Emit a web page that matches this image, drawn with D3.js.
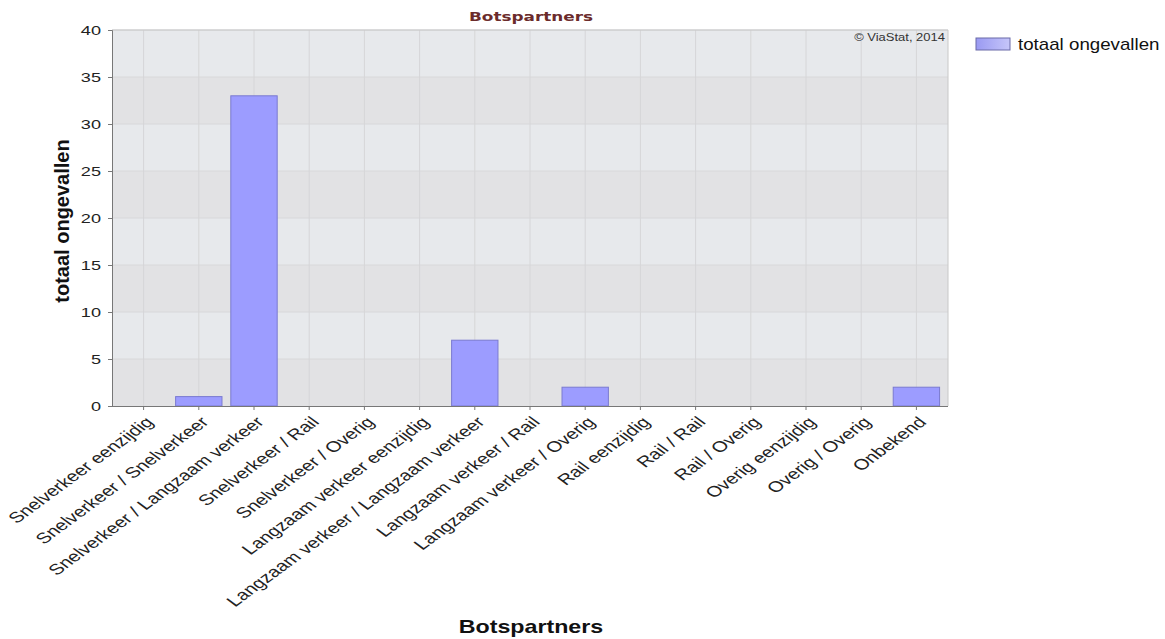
<!DOCTYPE html>
<html>
<head>
<meta charset="utf-8">
<script src="https://cdn.jsdelivr.net/npm/d3@7"></script>
<style>
  body { margin: 0; background: #fff; }
  svg { display: block; font-family: "Liberation Sans", Arial, sans-serif; }
</style>
</head>
<body>
<svg id="chart" width="1165" height="639"></svg>
<script>
// Collision partners and accident counts
const categories = [
  "Snelverkeer eenzijdig",
  "Snelverkeer / Snelverkeer",
  "Snelverkeer / Langzaam verkeer",
  "Snelverkeer / Rail",
  "Snelverkeer / Overig",
  "Langzaam verkeer eenzijdig",
  "Langzaam verkeer / Langzaam verkeer",
  "Langzaam verkeer / Rail",
  "Langzaam verkeer / Overig",
  "Rail eenzijdig",
  "Rail / Rail",
  "Rail / Overig",
  "Overig eenzijdig",
  "Overig / Overig",
  "Onbekend"
];
const totals = [0, 1, 33, 0, 0, 0, 7, 0, 2, 0, 0, 0, 0, 0, 2];
const yTicks = [0, 5, 10, 15, 20, 25, 30, 35, 40];
const seriesName = "totaal ongevallen";

const svg = d3.select("#chart");
const plot = { left: 112, right: 948, top: 30, bottom: 406 };
// horizontal widening applied to the category labels
const sx = 1.36;

const x = d3.scaleBand()
  .domain(categories)
  .range([plot.left + 4, plot.right - 4])
  .paddingInner(0.16)
  .paddingOuter(0.08);

const y = d3.scaleLinear().domain([0, 40]).range([plot.bottom, plot.top]);

// Alternating horizontal bands
const bands = d3.pairs(yTicks);
svg.append("g").selectAll("rect").data(bands).join("rect")
  .attr("x", plot.left)
  .attr("width", plot.right - plot.left)
  .attr("y", d => y(d[1]))
  .attr("height", d => y(d[0]) - y(d[1]))
  .attr("fill", (d, i) => i % 2 === 0 ? "#e2e2e4" : "#e7e9ec");

// Grid lines
svg.append("g").selectAll("line").data(yTicks.slice(1)).join("line")
  .attr("x1", plot.left).attr("x2", plot.right)
  .attr("y1", d => y(d)).attr("y2", d => y(d))
  .attr("stroke", "#d8d8da").attr("stroke-width", 1);

svg.append("g").selectAll("line").data(categories).join("line")
  .attr("x1", d => x(d) + x.bandwidth() / 2).attr("x2", d => x(d) + x.bandwidth() / 2)
  .attr("y1", plot.top).attr("y2", plot.bottom)
  .attr("stroke", "#d6d6d8").attr("stroke-width", 1);

// Plot border (top/right)
svg.append("path")
  .attr("d", `M${plot.left},${plot.top}H${plot.right}V${plot.bottom}`)
  .attr("fill", "none").attr("stroke", "#c8c8c8");

// Bars
svg.append("g").selectAll("rect").data(categories.map((c, i) => ({ c, v: totals[i] })).filter(d => d.v > 0))
  .join("rect")
  .attr("x", d => x(d.c))
  .attr("width", x.bandwidth())
  .attr("y", d => y(d.v))
  .attr("height", d => y(0) - y(d.v))
  .attr("fill", "#9c9cff")
  .attr("stroke", "#7a7ad0")
  .attr("stroke-width", 1);

// Y axis
const yAxis = svg.append("g")
  .attr("transform", `translate(${plot.left},0)`)
  .call(d3.axisLeft(y).tickValues(yTicks).tickSize(4).tickPadding(8));
yAxis.select(".domain").attr("stroke", "#777");
yAxis.selectAll(".tick line").attr("stroke", "#777");
yAxis.selectAll("text")
  .attr("font-size", 12.5).attr("fill", "#222")
  .attr("font-family", "Liberation Sans, Arial, sans-serif")
  .attr("x", 0)
  .attr("dy", "0.36em")
  .attr("transform", `translate(-11,0) scale(1.45,1)`);

// X axis
const xAxis = svg.append("g")
  .attr("transform", `translate(0,${plot.bottom})`)
  .call(d3.axisBottom(x).tickSize(4).tickSizeOuter(0));
xAxis.select(".domain").attr("stroke", "#777").attr("d", `M${plot.left},0.5H${plot.right}`);
xAxis.selectAll(".tick line").attr("stroke", "#777");
xAxis.selectAll("text")
  .attr("font-size", 15)
  .attr("fill", "#222")
  .attr("font-family", "Liberation Sans, Arial, sans-serif")
  .attr("text-anchor", "end")
  .attr("dy", null)
  .attr("y", 0)
  .attr("transform", `translate(11,17) scale(${sx},1) rotate(-45)`);

// Titles
svg.append("text")
  .attr("transform", "translate(531,21) scale(1.35,1)")
  .attr("text-anchor", "middle")
  .attr("font-size", 12.5).attr("font-weight", "bold")
  .attr("font-family", "DejaVu Sans, Verdana, sans-serif")
  .attr("fill", "#6b2b2b")
  .text("Botspartners");

svg.append("text")
  .attr("transform", "translate(531,633) scale(1.29,1)")
  .attr("text-anchor", "middle")
  .attr("font-size", 18).attr("font-weight", "bold")
  .attr("fill", "#111")
  .text("Botspartners");

svg.append("text")
  .attr("transform", `translate(69,221) rotate(-90)`)
  .attr("text-anchor", "middle")
  .attr("font-size", 20).attr("font-weight", "bold")
  .attr("fill", "#111")
  .text(seriesName);

// Copyright
svg.append("text")
  .attr("transform", `translate(${plot.right - 3},41) scale(1.3,1)`)
  .attr("text-anchor", "end")
  .attr("font-size", 10)
  .attr("fill", "#333")
  .text("© ViaStat, 2014");

// Legend
const grad = svg.append("defs").append("linearGradient").attr("id", "lg")
  .attr("x1", "0").attr("x2", "1");
grad.append("stop").attr("offset", "0").attr("stop-color", "#9a9af2");
grad.append("stop").attr("offset", "1").attr("stop-color", "#c6c6fa");
svg.append("rect")
  .attr("x", 976).attr("y", 38).attr("width", 34).attr("height", 12)
  .attr("fill", "url(#lg)").attr("stroke", "#6a6aa8").attr("stroke-width", 1);
svg.append("text")
  .attr("transform", "translate(1018,50) scale(1.17,1)")
  .attr("font-size", 16).attr("fill", "#111")
  .text(seriesName);
</script>
</body>
</html>
